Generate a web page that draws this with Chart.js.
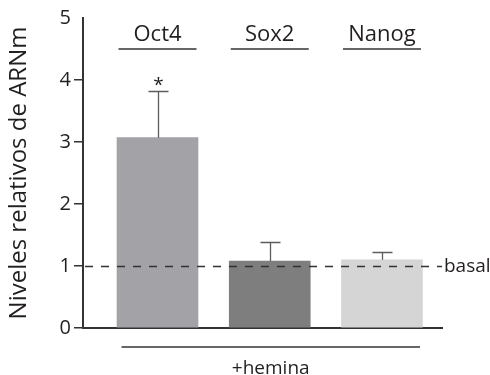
<!DOCTYPE html>
<html>
<head>
<meta charset="utf-8">
<script src="https://cdn.jsdelivr.net/npm/chart.js@4"></script>
<style>
  html, body { margin: 0; padding: 0; background: #fff; }
  #wrap { width: 490px; height: 375px; }
</style>
</head>
<body>
<div id="wrap"><canvas id="c" width="490" height="375"></canvas></div>
<script>
// Relative mRNA levels of pluripotency genes after hemin treatment
const genes = ['Oct4', 'Sox2', 'Nanog'];
const expression = [3.07, 1.08, 1.10];
const errorUp = [0.75, 0.30, 0.13];
const significance = ['*', '', ''];
const barColors = ['#a3a2a7', '#7d7e7d', '#d5d5d5'];
const yTicks = [0, 1, 2, 3, 4, 5];
const baselineValue = 1;
const baselineLabel = 'basal';
const treatmentLabel = '+hemina';
const yTitle = 'Niveles relativos de ARNm';

const INK = '#231f20';
const FONT = "'Open Sans', 'DejaVu Sans', sans-serif";

const annotations = {
  id: 'annotations',
  afterDatasetsDraw(chart) {
    const { ctx, chartArea, scales: { x, y } } = chart;
    ctx.save();

    // upper error bars and significance marks
    ctx.strokeStyle = '#5c5c5c';
    ctx.lineWidth = 1.3;
    expression.forEach((v, i) => {
      const px = Math.round(x.getPixelForValue(i)) + 0.5;
      const y0 = y.getPixelForValue(v);
      const y1 = Math.round(y.getPixelForValue(v + errorUp[i])) + 0.5;
      ctx.beginPath();
      ctx.moveTo(px, y0);
      ctx.lineTo(px, y1);
      ctx.moveTo(px - 10, y1);
      ctx.lineTo(px + 10, y1);
      ctx.stroke();
      if (significance[i]) {
        ctx.fillStyle = INK;
        ctx.font = `19px ${FONT}`;
        ctx.textAlign = 'center';
        ctx.textBaseline = 'alphabetic';
        ctx.fillText(significance[i], px, y1 - 1);
      }
    });

    // dashed basal reference line
    const yb = Math.round(y.getPixelForValue(baselineValue)) + 0.5;
    ctx.strokeStyle = '#333';
    ctx.lineWidth = 1.3;
    ctx.setLineDash([8, 8]);
    ctx.beginPath();
    ctx.moveTo(chartArea.left + 2, yb);
    ctx.lineTo(chartArea.right, yb);
    ctx.stroke();
    ctx.setLineDash([]);
    ctx.fillStyle = INK;
    ctx.font = `19px ${FONT}`;
    ctx.textAlign = 'left';
    ctx.textBaseline = 'middle';
    ctx.fillText(baselineLabel, chartArea.right + 2, yb);

    // gene headers with underlines
    ctx.font = `22px ${FONT}`;
    ctx.textAlign = 'center';
    ctx.textBaseline = 'alphabetic';
    ctx.strokeStyle = '#333';
    ctx.lineWidth = 1.5;
    genes.forEach((g, i) => {
      const px = x.getPixelForValue(i);
      ctx.fillText(g, px, 41);
      ctx.beginPath();
      ctx.moveTo(px - 39, 49);
      ctx.lineTo(px + 39, 49);
      ctx.stroke();
    });

    // treatment bracket under the bars
    const lx = x.getPixelForValue(0) - 36;
    const rx = x.getPixelForValue(genes.length - 1) + 38;
    ctx.beginPath();
    ctx.moveTo(lx, 347);
    ctx.lineTo(rx, 347);
    ctx.stroke();
    ctx.font = `19px ${FONT}`;
    ctx.fillText(treatmentLabel, (lx + rx) / 2, 374);

    ctx.restore();
  }
};

new Chart(document.getElementById('c'), {
  type: 'bar',
  data: {
    datasets: [{
      data: expression.map((v, i) => ({ x: i, y: v })),
      backgroundColor: barColors,
      borderWidth: 0,
      barThickness: 81
    }]
  },
  options: {
    responsive: false,
    devicePixelRatio: 1,
    animation: false,
    layout: { padding: { left: 0, right: 48, top: 18, bottom: 47 } },
    plugins: { legend: { display: false }, tooltip: { enabled: false } },
    scales: {
      x: {
        type: 'linear',
        offset: false,
        min: -0.664,
        max: 2.535,
        afterFit(scale) { scale.height = 0; },
        ticks: { display: false },
        grid: { display: false, drawTicks: false, offset: false },
        border: { display: true, color: '#333', width: 2 }
      },
      y: {
        min: 0,
        max: 5,
        afterFit(scale) { scale.width = 83; },
        afterBuildTicks(scale) { scale.ticks = yTicks.map(v => ({ value: v })); },
        ticks: {
          color: INK,
          font: { family: FONT, size: 20 },
          padding: 3
        },
        grid: {
          drawOnChartArea: false,
          tickLength: 9,
          lineWidth: 1.5,
          color: ctx => (ctx.tick && ctx.tick.value === 5 ? 'rgba(0,0,0,0)' : '#333')
        },
        border: { display: true, color: '#333', width: 2 },
        title: {
          display: true,
          text: yTitle,
          color: INK,
          font: { family: FONT, size: 24 },
          padding: { top: 5, bottom: 0 }
        }
      }
    }
  },
  plugins: [annotations]
});
</script>
</body>
</html>
